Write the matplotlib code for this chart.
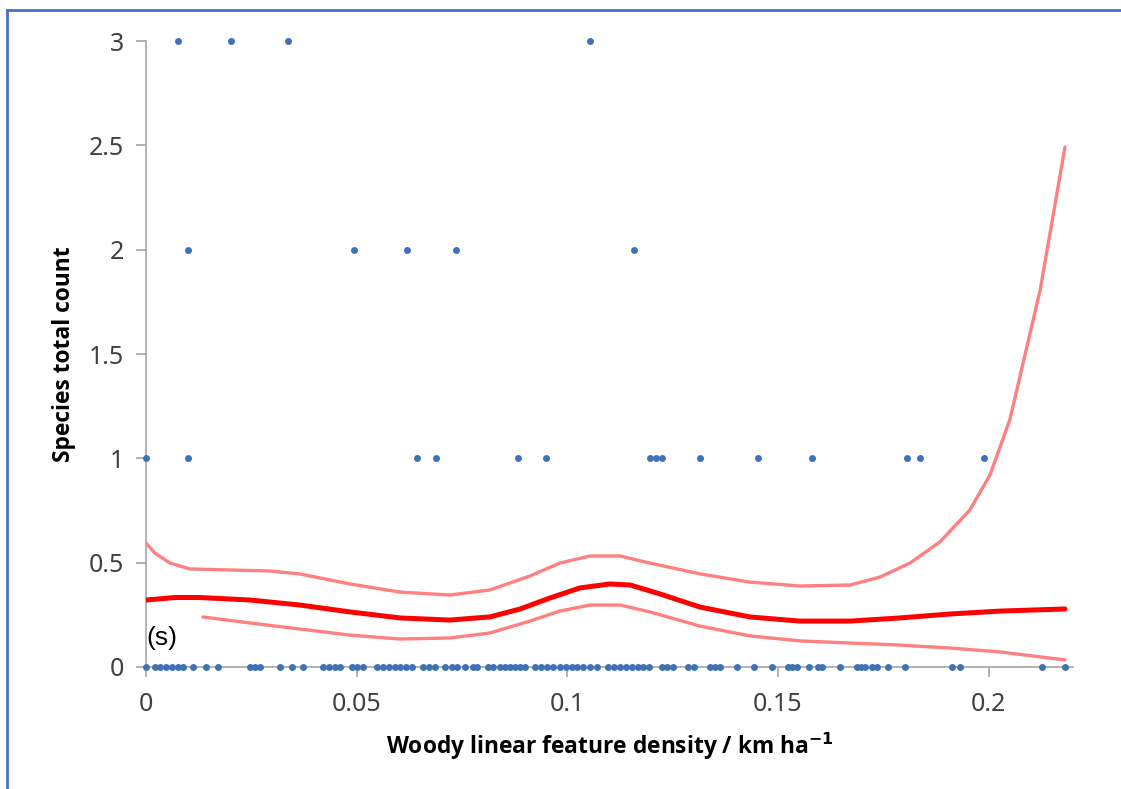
import matplotlib
matplotlib.use("Agg")
import matplotlib.pyplot as plt
from matplotlib.lines import Line2D

# observed counts: x positions of points at each count level
x_zero = [0.0, 0.0021, 0.0033, 0.0047, 0.0062, 0.0076, 0.0088, 0.0112, 0.0142,
          0.0171, 0.0247, 0.0259, 0.0270, 0.0318, 0.0346, 0.0373, 0.0420, 0.0434,
          0.0449, 0.0460, 0.0489, 0.0501, 0.0515, 0.0548, 0.0562, 0.0577, 0.0591,
          0.0603, 0.0617, 0.0631, 0.0657, 0.0672, 0.0686, 0.0710, 0.0726, 0.0738,
          0.0757, 0.0776, 0.0785, 0.0812, 0.0823, 0.0840, 0.0852, 0.0864, 0.0876,
          0.0888, 0.0899, 0.0923, 0.0937, 0.0952, 0.0966, 0.0982, 0.0997, 0.1011,
          0.1023, 0.1037, 0.1054, 0.1070, 0.1096, 0.1111, 0.1125, 0.1139, 0.1153,
          0.1168, 0.1179, 0.1194, 0.1224, 0.1236, 0.1251, 0.1286, 0.1300, 0.1338,
          0.1350, 0.1362, 0.1402, 0.1443, 0.1486, 0.1523, 0.1533, 0.1545, 0.1573,
          0.1595, 0.1604, 0.1647, 0.1687, 0.1697, 0.1706, 0.1723, 0.1735, 0.1761,
          0.1801, 0.1913, 0.1932, 0.2126, 0.2181]
x_one = [0.0, 0.0100, 0.0643, 0.0688, 0.0883, 0.0949, 0.1196, 0.1210, 0.1224,
         0.1315, 0.1452, 0.1580, 0.1806, 0.1837, 0.1989]
x_two = [0.0100, 0.0494, 0.0619, 0.0736, 0.1158]
x_three = [0.0076, 0.0202, 0.0337, 0.1054]

# fitted smooth and its confidence band
fit_x = [0.0, 0.0069, 0.0128, 0.0247, 0.0365, 0.0484, 0.0603, 0.0721, 0.0816,
         0.0888, 0.0959, 0.1030, 0.1101, 0.1149, 0.1220, 0.1315, 0.1433, 0.1552,
         0.1671, 0.1789, 0.1908, 0.2027, 0.2181]
fit_y = [0.321, 0.333, 0.333, 0.321, 0.297, 0.264, 0.235, 0.225, 0.240, 0.278,
         0.331, 0.379, 0.398, 0.393, 0.350, 0.287, 0.240, 0.220, 0.220, 0.235,
         0.254, 0.268, 0.278]

upper_x = [0.0, 0.0021, 0.0057, 0.0104, 0.0199, 0.0294, 0.0365, 0.0484, 0.0603,
           0.0721, 0.0816, 0.0911, 0.0982, 0.1054, 0.1125, 0.1196, 0.1315, 0.1433,
           0.1552, 0.1671, 0.1742, 0.1813, 0.1884, 0.1955, 0.2003, 0.2050, 0.2122,
           0.2181]
upper_y = [0.594, 0.546, 0.498, 0.470, 0.465, 0.460, 0.446, 0.398, 0.359, 0.345,
           0.369, 0.436, 0.498, 0.532, 0.532, 0.498, 0.446, 0.407, 0.388, 0.393,
           0.431, 0.498, 0.599, 0.752, 0.920, 1.184, 1.806, 2.492]

lower_x = [0.0135, 0.0247, 0.0365, 0.0484, 0.0603, 0.0721, 0.0816, 0.0911, 0.0982,
           0.1054, 0.1125, 0.1196, 0.1315, 0.1433, 0.1552, 0.1671, 0.1789, 0.1908,
           0.2027, 0.2181]
lower_y = [0.240, 0.211, 0.182, 0.153, 0.134, 0.139, 0.163, 0.220, 0.268, 0.297,
           0.297, 0.264, 0.196, 0.149, 0.125, 0.115, 0.105, 0.091, 0.072, 0.034]

x_ticks = [0, 0.05, 0.1, 0.15, 0.2]
x_tick_labels = ["0", "0.05", "0.1", "0.15", "0.2"]
y_ticks = [0, 0.5, 1, 1.5, 2, 2.5, 3]
y_tick_labels = ["0", "0.5", "1", "1.5", "2", "2.5", "3"]

fig = plt.figure(figsize=(11.21, 7.89), dpi=100)
ax = fig.add_axes([146 / 1121, 1 - 667 / 789, (1073 - 146) / 1121, (667 - 41) / 789])

dot = "#3f72b5"
for xs, level in [(x_zero, 0), (x_one, 1), (x_two, 2), (x_three, 3)]:
    ax.plot(xs, [level] * len(xs), "o", color=dot, markersize=5,
            markeredgewidth=0, zorder=3, clip_on=False)

line_kw = dict(solid_joinstyle="round", solid_capstyle="round", zorder=2)
ax.plot(upper_x, upper_y, color="#ff8080", lw=2.4, **line_kw)
ax.plot(lower_x, lower_y, color="#ff8080", lw=2.4, **line_kw)
ax.plot(fit_x, fit_y, color="#ff0000", lw=3.6, **line_kw)

ax.set_xlim(0, 0.22)
ax.set_ylim(0, 3)
ax.set_xticks(x_ticks)
ax.set_xticklabels(x_tick_labels)
ax.set_yticks(y_ticks)
ax.set_yticklabels(y_tick_labels)

for side in ["top", "right"]:
    ax.spines[side].set_visible(False)
for side in ["left", "bottom"]:
    ax.spines[side].set_color("#a6a6a6")
    ax.spines[side].set_linewidth(1.2)
    ax.spines[side].set_zorder(1)

ax.tick_params(axis="both", colors="#a6a6a6", length=7, width=1.2, direction="out",
               labelcolor="#404040", labelsize=18)
ax.tick_params(axis="y", pad=9)
ax.tick_params(axis="x", pad=11)
for lab in ax.get_xticklabels() + ax.get_yticklabels():
    lab.set_family("Noto Sans")

ax.set_xlabel("Woody linear feature density / km ha$^{\\mathbf{-1}}$", fontsize=16.4,
              fontweight="bold", family="Open Sans", labelpad=10)
ax.set_ylabel("Species total count", fontsize=16.4, fontweight="bold", family="Open Sans",
              labelpad=9)

ax.text(0.0, 0.08, "(s)", fontsize=19, family="Liberation Sans", color="black",
        ha="left", va="bottom")

# blue frame edges (top and left visible in the crop)
fig.add_artist(Line2D([7 / 1121, 1], [1 - 10 / 789, 1 - 10 / 789], color="#4472c4",
                      lw=2, transform=fig.transFigure))
fig.add_artist(Line2D([7 / 1121, 7 / 1121], [0, 1 - 10 / 789], color="#4472c4",
                      lw=2, transform=fig.transFigure))

fig.savefig("out.png", dpi=100)
